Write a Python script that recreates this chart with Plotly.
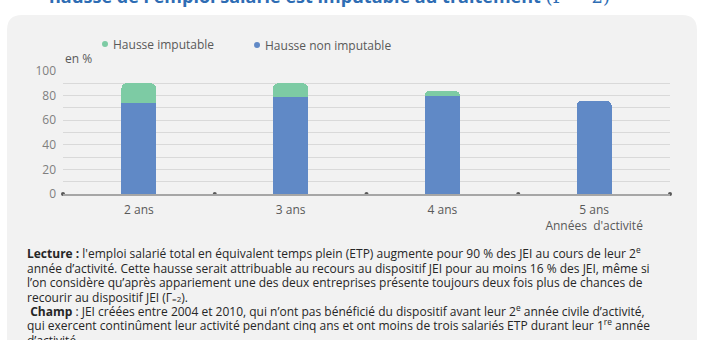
import plotly.graph_objects as go

categories = ["2 ans", "3 ans", "4 ans", "5 ans"]
tick_labels = ["2 ans", "3 ans", "4 ans", "5 ans<br>Années  d'activité"]
non_imputable = [74, 79, 80, 76]
imputable = [16, 11, 4, None]

series_names = ["Hausse imputable", "Hausse non imputable"]
colors = {"Hausse imputable": "#7DCBA4", "Hausse non imputable": "#6089C6"}

note_lines = [
    "<b>Lecture :</b> l'emploi salarié total en équivalent temps plein (ETP) augmente pour 90 % des JEI au cours de leur 2<sup>e</sup>",
    "année d’activité. Cette hausse serait attribuable au recours au dispositif JEI pour au moins 16 % des JEI, même si",
    "l’on considère qu’après appariement une des deux entreprises présente toujours deux fois plus de chances de",
    "recourir au dispositif JEI (Γ<span style='font-size:8px'>=2</span>).",
    " <b>Champ</b> : JEI créées entre 2004 et 2010, qui n’ont pas bénéficié du dispositif avant leur 2<sup>e</sup> année civile d’activité,",
    "qui exercent continûment leur activité pendant cinq ans et ont moins de trois salariés ETP durant leur 1<sup>re</sup> année",
    "d’activité.",
]

W, H = 720, 340
ML, MR, MT, MB = 63, 50, 71, 146
PW, PH = W - ML - MR, H - MT - MB


def px(x):
    return (x - ML) / PW


def py(y):
    return (H - MB - y) / PH


xs = list(range(len(categories)))
bounds = [i - 0.5 for i in range(len(categories) + 1)]

fig = go.Figure()
fig.add_trace(go.Bar(x=xs, y=non_imputable, name=series_names[1],
                     marker=dict(color=colors[series_names[1]], line=dict(width=0)),
                     width=0.23, showlegend=False))
fig.add_trace(go.Bar(x=xs, y=imputable, name=series_names[0],
                     marker=dict(color=colors[series_names[0]], line=dict(width=0)),
                     width=0.23, showlegend=False))
fig.add_trace(go.Scatter(x=bounds, y=[0] * len(bounds), mode="markers",
                         marker=dict(size=4, color="#595959"), cliponaxis=False,
                         showlegend=False, hoverinfo="skip"))

# panel with rounded corners
r = 15
x0, x1, y0, y1 = 7, 697, 15, 360
path = (f"M {px(x0)},{py(y1)} L {px(x0)},{py(y0 + r)} Q {px(x0)},{py(y0)} {px(x0 + r)},{py(y0)} "
        f"L {px(x1 - r)},{py(y0)} Q {px(x1)},{py(y0)} {px(x1)},{py(y0 + r)} L {px(x1)},{py(y1)} Z")
shapes = [dict(type="path", path=path, xref="paper", yref="paper",
               fillcolor="#F2F2F2", line=dict(width=0), layer="below")]

annotations = []
# legend
leg = [(series_names[0], 105, 44), (series_names[1], 257, 45)]
for name, cx, cy in leg:
    shapes.append(dict(type="circle", xref="paper", yref="paper",
                       x0=px(cx - 3), x1=px(cx + 3), y0=py(cy + 3), y1=py(cy - 3),
                       fillcolor=colors[name], line=dict(width=0)))
    annotations.append(dict(text=name, x=px(cx + 6), y=py(cy), xref="paper", yref="paper",
                            xanchor="left", yanchor="middle", showarrow=False,
                            font=dict(size=12, color="#595959", family="Open Sans")))

annotations.append(dict(text="en %", x=px(63), y=py(58), xref="paper", yref="paper",
                        xanchor="left", yanchor="middle", showarrow=False,
                        font=dict(size=12, color="#595959", family="Open Sans")))

title_txt = ("<b>hausse de l'emploi salarié est imputable au traitement</b> "
             "<span style='font-family:DejaVu Serif'>(Γ = 2)</span>")
annotations.append(dict(text=title_txt, x=px(329), y=py(10), xref="paper", yref="paper",
                        xanchor="center", yanchor="bottom", showarrow=False,
                        font=dict(size=18, color="#2E6DB4", family="Open Sans")))

for i, line in enumerate(note_lines):
    yc = 253 + 14.5 * i
    annotations.append(dict(text=line, x=px(25), y=py(yc + 11), xref="paper", yref="paper",
                            xanchor="left", yanchor="bottom", align="left", showarrow=False,
                            font=dict(size=12, color="#262626", family="Open Sans")))

fig.update_layout(
    width=W, height=H, margin=dict(l=ML, r=MR, t=MT, b=MB),
    paper_bgcolor="white", plot_bgcolor="rgba(0,0,0,0)",
    barmode="stack", barcornerradius=5, showlegend=False,
    shapes=shapes, annotations=annotations,
    font=dict(family="Open Sans", color="#595959"),
    xaxis=dict(range=[bounds[0], bounds[-1]], tickvals=xs, ticktext=tick_labels,
               showgrid=False, zeroline=False, showline=True, linecolor="#A6A6A6",
               linewidth=2, ticks="", ticklabelstandoff=4,
               tickfont=dict(size=12, color="#595959")),
    yaxis=dict(range=[0, 100], dtick=20, showgrid=True, gridcolor="#D9D9D9", gridwidth=1,
               minor=dict(dtick=10, showgrid=True, gridcolor="#D9D9D9", gridwidth=1),
               zeroline=False, showline=False, ticks="", ticklabelstandoff=6,
               tickfont=dict(size=12, color="#7F7F7F")),
)

fig.write_html("out.html")
